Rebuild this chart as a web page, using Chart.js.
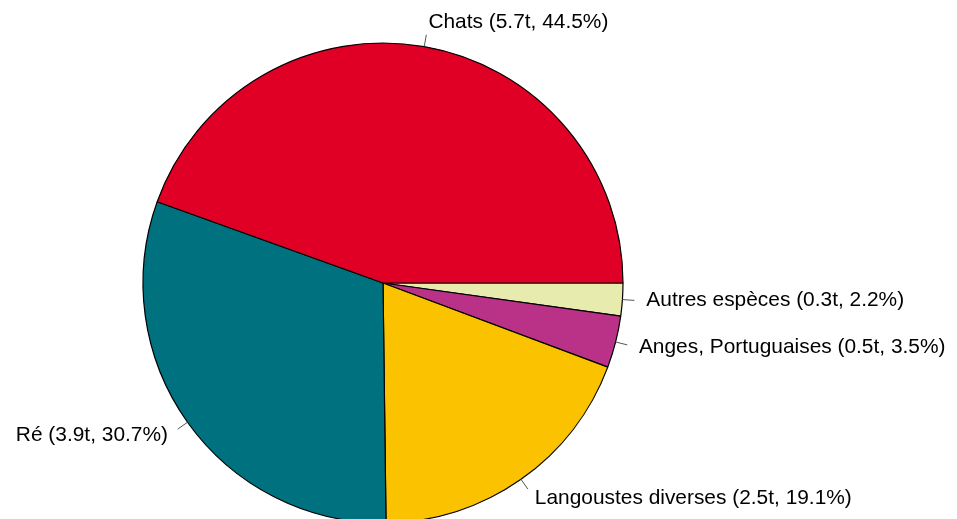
<!DOCTYPE html>
<html>
<head>
<meta charset="utf-8">
<script src="https://cdn.jsdelivr.net/npm/chart.js@4/dist/chart.umd.min.js"></script>
<style>
  html, body { margin: 0; padding: 0; background: #fff; overflow: hidden; }
  canvas { display: block; }
</style>
</head>
<body>
<canvas id="pieChart" width="957" height="566"></canvas>
<script>
// Slices listed clockwise from 3 o'clock (R draws them counter-clockwise)
const species = ['Autres espèces', 'Anges, Portuguaises', 'Langoustes diverses', 'Ré', 'Chats'];
const tonnes = ['0.3t', '0.5t', '2.5t', '3.9t', '5.7t'];
const percents = [2.2, 3.5, 19.1, 30.7, 44.5];
const colours = ['#E8EBAE', '#BA3188', '#FBC200', '#00727F', '#E00026'];

// Draws the outside labels with short leader lines, like base R pie()
const sliceLabels = {
    id: 'sliceLabels',
    afterDraw(chart) {
        const ctx = chart.ctx;
        const arcs = chart.getDatasetMeta(0).data;
        ctx.save();
        ctx.font = '20.9px "Liberation Sans", Arial, sans-serif';
        ctx.fillStyle = '#000';
        ctx.strokeStyle = '#555';
        ctx.lineWidth = 1;
        ctx.textBaseline = 'middle';
        arcs.forEach((arc, i) => {
            const mid = (arc.startAngle + arc.endAngle) / 2;
            const r = arc.outerRadius;
            const c = Math.cos(mid), s = Math.sin(mid);
            ctx.beginPath();
            ctx.moveTo(arc.x + r * c, arc.y + r * s);
            ctx.lineTo(arc.x + 1.05 * r * c, arc.y + 1.05 * r * s);
            ctx.stroke();
            ctx.textAlign = c >= 0 ? 'left' : 'right';
            const txt = species[i] + ' (' + tonnes[i] + ', ' + percents[i] + '%)';
            ctx.fillText(txt, arc.x + 1.1 * r * c, arc.y + 1.1 * r * s - 1);
        });
        ctx.restore();
    }
};

new Chart(document.getElementById('pieChart'), {
    type: 'pie',
    data: {
        labels: species,
        datasets: [{
            data: percents,
            backgroundColor: colours,
            borderColor: '#000',
            borderWidth: 1.2
        }]
    },
    options: {
        responsive: false,
        animation: false,
        rotation: 90,
        radius: 240,
        layout: { padding: { left: 143, right: 334, top: 42, bottom: 42 } },
        plugins: {
            legend: { display: false },
            tooltip: { enabled: false }
        }
    },
    plugins: [sliceLabels]
});
</script>
</body>
</html>
